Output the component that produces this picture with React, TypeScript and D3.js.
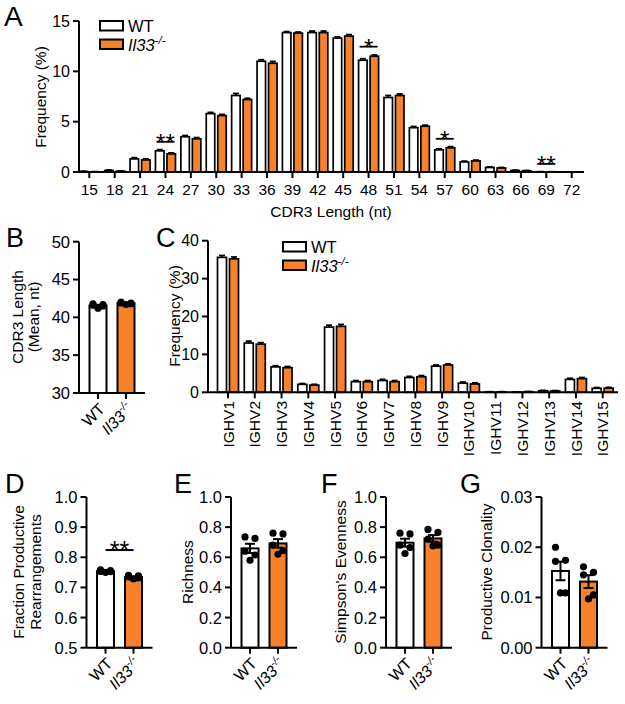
import React from "react";
import * as d3 from "d3";

const ORANGE = "#F7822B";
const FONT = "'Liberation Sans', Arial, Helvetica, sans-serif";

// ---------- Panel A: CDR3 length distribution ----------
const cdr3Lengths = [15, 18, 21, 24, 27, 30, 33, 36, 39, 42, 45, 48, 51, 54, 57, 60, 63, 66, 69, 72];
const cdr3WT = [0.05, 0.15, 1.3, 2.1, 3.5, 5.8, 7.6, 11.0, 13.85, 13.85, 13.3, 11.1, 7.4, 4.4, 2.2, 1.0, 0.45, 0.15, 0.02, 0];
const cdr3WTErr = [0.02, 0.05, 0.12, 0.12, 0.12, 0.12, 0.2, 0.15, 0.1, 0.15, 0.12, 0.15, 0.2, 0.12, 0.1, 0.08, 0.05, 0.03, 0.01, 0];
const cdr3KO = [0.02, 0.08, 1.2, 1.8, 3.3, 5.6, 7.2, 10.8, 13.8, 13.85, 13.5, 11.5, 7.6, 4.55, 2.4, 1.1, 0.4, 0.12, 0.01, 0];
const cdr3KOErr = [0.01, 0.03, 0.1, 0.1, 0.12, 0.12, 0.12, 0.18, 0.1, 0.15, 0.15, 0.12, 0.15, 0.1, 0.12, 0.08, 0.05, 0.03, 0.01, 0];
const cdr3YTicks = [0, 5, 10, 15];
const cdr3Sig = [
  { cat: 24, label: "**", y: 3.0 },
  { cat: 48, label: "*", y: 12.45 },
  { cat: 57, label: "*", y: 3.3 },
  { cat: 69, label: "**", y: 0.8 },
];

// ---------- Panel C: IGHV usage ----------
const ighvGenes = ["IGHV1", "IGHV2", "IGHV3", "IGHV4", "IGHV5", "IGHV6", "IGHV7", "IGHV8", "IGHV9", "IGHV10", "IGHV11", "IGHV12", "IGHV13", "IGHV14", "IGHV15"];
const ighvWT = [35.6, 13.0, 6.7, 2.1, 17.2, 2.8, 3.1, 3.9, 6.9, 2.4, 0.1, 0.05, 0.4, 3.4, 1.05];
const ighvWTErr = [0.5, 0.5, 0.3, 0.2, 0.5, 0.3, 0.3, 0.3, 0.3, 0.3, 0.05, 0.05, 0.1, 0.3, 0.2];
const ighvKO = [35.2, 12.7, 6.5, 1.9, 17.4, 2.8, 2.8, 4.1, 7.2, 2.2, 0.1, 0.15, 0.35, 3.6, 1.1];
const ighvKOErr = [0.5, 0.4, 0.3, 0.2, 0.5, 0.3, 0.3, 0.3, 0.3, 0.3, 0.05, 0.05, 0.1, 0.3, 0.2];
const ighvYTicks = [0, 10, 20, 30, 40];

// ---------- Small panels (individual mice) ----------
const groups = ["WT", "KO"];
const meanLenWT = [41.8, 41.6, 41.5, 41.2, 41.7];
const meanLenKO = [42.0, 41.9, 41.8, 41.7, 41.9];
const meanLenTicks = [30, 35, 40, 45, 50];

const fracProdWT = [0.758, 0.753, 0.756, 0.75, 0.752];
const fracProdKO = [0.74, 0.735, 0.732, 0.738, 0.728];
const fracProdTicks = [0.5, 0.6, 0.7, 0.8, 0.9, 1.0];

const richnessWT = [0.735, 0.725, 0.64, 0.615, 0.58];
const richnessKO = [0.76, 0.755, 0.68, 0.645, 0.62];
const richnessTicks = [0, 0.2, 0.4, 0.6, 0.8, 1.0];

const evennessWT = [0.76, 0.755, 0.68, 0.665, 0.625];
const evennessKO = [0.785, 0.765, 0.72, 0.68, 0.675];
const evennessTicks = [0, 0.2, 0.4, 0.6, 0.8, 1.0];

const clonalityWT = [0.02, 0.0174, 0.0172, 0.0109, 0.0109];
const clonalityKO = [0.0161, 0.015, 0.0145, 0.0105, 0.0097];
const clonalityTicks = [0, 0.01, 0.02, 0.03];

const txt = (size: number, extra: any = {}) => ({ fontFamily: FONT, fontSize: size, fill: "#000", ...extra });

function KOText({ size }: { size: number }) {
  return (
    <>
      <tspan fontStyle="italic">Il33</tspan>
      <tspan fontStyle="italic" fontSize={size * 0.7} dy={-size * 0.42}>-/-</tspan>
    </>
  );
}

function Legend({ x, y }: { x: number; y: number }) {
  return (
    <g>
      <rect x={x} y={y} width={23} height={9.5} fill="#fff" stroke="#000" strokeWidth={2} />
      <rect x={x} y={y + 18.5} width={23} height={9.5} fill={ORANGE} stroke="#000" strokeWidth={2} />
      <text x={x + 28} y={y + 10.5} {...txt(16.5)}>WT</text>
      <text x={x + 28} y={y + 29.5} {...txt(16.5)}><KOText size={16.5} /></text>
    </g>
  );
}

function YLabel({ lines, x, yc, size = 15.5 }: { lines: { t: string; dx: number }[]; x: number; yc: number; size?: number }) {
  return (
    <g>
      {lines.map((l, i) => (
        <text key={i} transform={`translate(${x + l.dx},${yc}) rotate(-90)`} textAnchor="middle" dy="0.35em" {...txt(size)}>
          {l.t}
        </text>
      ))}
    </g>
  );
}

type GBProps = {
  cats: any[]; wt: number[]; wtErr: number[]; ko: number[]; koErr: number[];
  x0: number; x1: number; c0: number; c1: number; yTop: number; yBot: number; yMax: number;
  yTicks: number[]; half: number; gap: number;
};

function GroupedBars(p: GBProps) {
  const x = d3.scalePoint<any>().domain(p.cats).range([p.c0, p.c1]);
  const y = d3.scaleLinear().domain([0, p.yMax]).range([p.yBot, p.yTop]);
  const bw = p.half - p.gap;
  const bar = (cx: number, v: number, e: number, fill: string, key: string) => {
    const top = y(v);
    const et = y(v + e);
    return (
      <g key={key}>
        <rect x={cx} y={top} width={bw} height={Math.max(0, p.yBot - top)} fill={fill} stroke="#000" strokeWidth={1.7} />
        {e > 0 && (
          <>
            <line x1={cx + bw / 2} x2={cx + bw / 2} y1={top} y2={et} stroke="#000" strokeWidth={1.6} />
            <line x1={cx + bw / 2 - 3} x2={cx + bw / 2 + 3} y1={et} y2={et} stroke="#000" strokeWidth={1.8} />
          </>
        )}
      </g>
    );
  };
  return (
    <g>
      {p.cats.map((c, i) => {
        const cx = x(c) as number;
        return (
          <g key={String(c)}>
            {bar(cx - p.half, p.wt[i], p.wtErr[i], "#fff", "w")}
            {bar(cx + p.gap, p.ko[i], p.koErr[i], ORANGE, "k")}
          </g>
        );
      })}
      <line x1={p.x0} x2={p.x0} y1={p.yTop} y2={p.yBot} stroke="#000" strokeWidth={2} />
      <line x1={p.x0} x2={p.x1} y1={p.yBot} y2={p.yBot} stroke="#000" strokeWidth={2} />
      {p.yTicks.map((t) => (
        <g key={t}>
          <line x1={p.x0 - 6} x2={p.x0} y1={y(t)} y2={y(t)} stroke="#000" strokeWidth={2} />
          <text x={p.x0 - 9} y={y(t)} dy="0.36em" textAnchor="end" {...txt(16)}>{t}</text>
        </g>
      ))}
      {p.cats.map((c) => (
        <line key={"t" + c} x1={x(c)} x2={x(c)} y1={p.yBot} y2={p.yBot + 6} stroke="#000" strokeWidth={2} />
      ))}
    </g>
  );
}

type DPProps = {
  x0: number; yTop: number; yBot: number; ticks: number[]; fmt: (v: number) => string;
  wt: number[]; ko: number[]; sig?: { label: string; y: number };
};

function DotBarPanel(p: DPProps) {
  const x = d3.scalePoint<string>().domain(groups).range([p.x0 + 19, p.x0 + 47]);
  const y = d3.scaleLinear().domain([p.ticks[0], p.ticks[p.ticks.length - 1]]).range([p.yBot, p.yTop]);
  const offs = [-5, 5, -5, 5, 0];
  const bw = 17;
  const series = [p.wt, p.ko];
  return (
    <g>
      {groups.map((g, gi) => {
        const vals = series[gi];
        const m = d3.mean(vals) as number;
        const sem = (d3.deviation(vals) as number) / Math.sqrt(vals.length);
        const cx = x(g) as number;
        const sorted = [...vals].sort((a, b) => b - a);
        return (
          <g key={g}>
            <rect x={cx - bw / 2} y={y(m)} width={bw} height={p.yBot - y(m)} fill={gi === 0 ? "#fff" : ORANGE} stroke="#000" strokeWidth={2} />
            {sorted.map((v, i) => (
              <circle key={i} cx={cx + offs[i]} cy={y(v)} r={3.6} fill="#000" />
            ))}
            <line x1={cx} x2={cx} y1={y(m - sem)} y2={y(m + sem)} stroke="#000" strokeWidth={2} />
            <line x1={cx - 5} x2={cx + 5} y1={y(m + sem)} y2={y(m + sem)} stroke="#000" strokeWidth={2} />
            <line x1={cx - 5} x2={cx + 5} y1={y(m - sem)} y2={y(m - sem)} stroke="#000" strokeWidth={2} />
            <line x1={cx} x2={cx} y1={p.yBot} y2={p.yBot + 6} stroke="#000" strokeWidth={2} />
            <text transform={`translate(${cx + 4},${p.yBot + 13}) rotate(-45)`} textAnchor="end" dy="0.35em" {...txt(16)}>
              {gi === 0 ? "WT" : <KOText size={16} />}
            </text>
          </g>
        );
      })}
      <line x1={p.x0} x2={p.x0} y1={p.yTop} y2={p.yBot} stroke="#000" strokeWidth={2} />
      <line x1={p.x0} x2={p.x0 + 66} y1={p.yBot} y2={p.yBot} stroke="#000" strokeWidth={2} />
      {p.ticks.map((t) => (
        <g key={t}>
          <line x1={p.x0 - 6} x2={p.x0} y1={y(t)} y2={y(t)} stroke="#000" strokeWidth={2} />
          <text x={p.x0 - 9} y={y(t)} dy="0.36em" textAnchor="end" {...txt(16.5)}>{p.fmt(t)}</text>
        </g>
      ))}
      {p.sig && (
        <g>
          <line x1={x("WT")} x2={x("KO")} y1={y(p.sig.y)} y2={y(p.sig.y)} stroke="#000" strokeWidth={2} />
          <text x={((x("WT") as number) + (x("KO") as number)) / 2} y={y(p.sig.y) + 9} textAnchor="middle" {...txt(25)}>{p.sig.label}</text>
        </g>
      )}
    </g>
  );
}

export default function App() {
  const W = 625, H = 704;
  const ax = d3.scalePoint<number>().domain(cdr3Lengths).range([89.3, 571.7]);
  const ay = d3.scaleLinear().domain([0, 15]).range([172, 21]);
  const cx = d3.scalePoint<string>().domain(ighvGenes).range([228, 602.7]);
  const f1 = d3.format(".1f");
  const f2 = d3.format(".2f");
  return (
    <svg width={W} height={H} style={{ position: "absolute", left: 0, top: 0, background: "#fff" }}>
      <rect width={W} height={H} fill="#fff" />
      {/* Panel A */}
      <text x={4} y={26} {...txt(28)}>A</text>
      <GroupedBars cats={cdr3Lengths} wt={cdr3WT} wtErr={cdr3WTErr} ko={cdr3KO} koErr={cdr3KOErr}
        x0={79} x1={584} c0={89.3} c1={571.7} yTop={21} yBot={172} yMax={15} yTicks={cdr3YTicks} half={10} gap={1.5} />
      {cdr3Lengths.map((c) => (
        <text key={c} x={ax(c)} y={195} textAnchor="middle" {...txt(15.5)}>{c}</text>
      ))}
      <text x={331} y={217} textAnchor="middle" {...txt(15.5)}>CDR3 Length (nt)</text>
      <YLabel lines={[{ t: "Frequency (%)", dx: 0 }]} x={41} yc={97} />
      {cdr3Sig.map((s) => (
        <g key={s.cat}>
          <line x1={(ax(s.cat) as number) - 9} x2={(ax(s.cat) as number) + 9} y1={ay(s.y)} y2={ay(s.y)} stroke="#000" strokeWidth={1.8} />
          <text x={ax(s.cat)} y={ay(s.y) + 9} textAnchor="middle" {...txt(24)}>{s.label}</text>
        </g>
      ))}
      <Legend x={100} y={21} />

      {/* Panel B */}
      <text x={6} y={247} {...txt(27)}>B</text>
      <DotBarPanel x0={79} yTop={241.7} yBot={393} ticks={meanLenTicks} fmt={(v) => String(v)} wt={meanLenWT} ko={meanLenKO} />
      <YLabel lines={[{ t: "CDR3 Length", dx: 0 }, { t: "(Mean, nt)", dx: 16 }]} x={18} yc={317} />

      {/* Panel C */}
      <text x={156} y={247} {...txt(27)}>C</text>
      <GroupedBars cats={ighvGenes} wt={ighvWT} wtErr={ighvWTErr} ko={ighvKO} koErr={ighvKOErr}
        x0={208} x1={618} c0={228} c1={602.7} yTop={240.7} yBot={392.3} yMax={40} yTicks={ighvYTicks} half={10.5} gap={1.5} />
      {ighvGenes.map((g) => (
        <text key={g} transform={`translate(${cx(g)},${401}) rotate(-90)`} textAnchor="end" dy="0.36em" {...txt(15.5)}>{g}</text>
      ))}
      <YLabel lines={[{ t: "Frequency (%)", dx: 0 }]} x={175} yc={316} />
      <Legend x={283} y={242} />

      {/* Panel D */}
      <text x={5} y={493} {...txt(27)}>D</text>
      <DotBarPanel x0={86.5} yTop={497} yBot={647.7} ticks={fracProdTicks} fmt={f1} wt={fracProdWT} ko={fracProdKO} sig={{ label: "**", y: 0.824 }} />
      <YLabel lines={[{ t: "Fraction Productive", dx: 0 }, { t: "Rearrangements", dx: 17 }]} x={19} yc={572} />

      {/* Panel E */}
      <text x={174} y={493} {...txt(27)}>E</text>
      <DotBarPanel x0={231} yTop={497} yBot={647.7} ticks={richnessTicks} fmt={f1} wt={richnessWT} ko={richnessKO} />
      <YLabel lines={[{ t: "Richness", dx: 0 }]} x={188} yc={572} />

      {/* Panel F */}
      <text x={321} y={493} {...txt(27)}>F</text>
      <DotBarPanel x0={386} yTop={497} yBot={647.7} ticks={evennessTicks} fmt={f1} wt={evennessWT} ko={evennessKO} />
      <YLabel lines={[{ t: "Simpson's Evenness", dx: 0 }]} x={341} yc={572} />

      {/* Panel G */}
      <text x={460} y={493} {...txt(27)}>G</text>
      <DotBarPanel x0={541.5} yTop={497} yBot={647.7} ticks={clonalityTicks} fmt={f2} wt={clonalityWT} ko={clonalityKO} />
      <YLabel lines={[{ t: "Productive Clonality", dx: 0 }]} x={487} yc={572} />
    </svg>
  );
}
